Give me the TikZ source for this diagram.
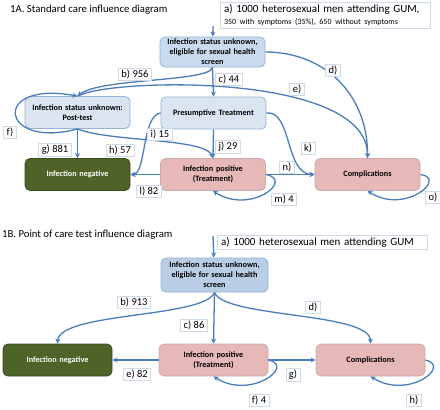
\documentclass[tikz,border=0pt]{standalone}
\usepackage{fontspec}
\setmainfont{Carlito}
\usepackage{xcolor}
\usepackage{tikz}
\usetikzlibrary{shapes,arrows.meta}
\definecolor{edgeblue}{RGB}{74, 126, 187}
\definecolor{boxline}{RGB}{149, 179, 215}
\definecolor{paleblue}{RGB}{219, 229, 242}
\definecolor{screenblue}{RGB}{201, 218, 239}
\definecolor{deepscreen}{RGB}{185, 205, 229}
\definecolor{rose}{RGB}{230, 185, 184}
\definecolor{roseline}{RGB}{200, 170, 175}
\definecolor{olive}{RGB}{79, 98, 40}
\definecolor{oliveline}{RGB}{60, 75, 30}
\definecolor{labelline}{RGB}{205, 218, 234}

\begin{document}
\begin{tikzpicture}[x=1pt, y=-1pt,
    stbox/.style={rectangle, rounded corners=5pt, draw=boxline, line width=0.8pt, minimum width=105pt, minimum height=32pt, text width=104pt, align=center, inner sep=0.5pt, font=\fontsize{8.2}{10}\selectfont\bfseries},
    bluebox/.style={stbox, fill=paleblue},
    pinkbox/.style={stbox, fill=rose, draw=roseline},
    greenbox/.style={stbox, fill=olive, draw=oliveline, text=white},
    lbl/.style={rectangle, draw=labelline, fill=white, line width=0.6pt, inner xsep=3pt, inner ysep=1.5pt, font=\fontsize{10.5}{12}\selectfont},
    infobox/.style={rectangle, draw=labelline, fill=white, line width=0.6pt, align=left, inner xsep=4pt, inner ysep=2pt, font=\fontsize{11}{12.5}\selectfont},
    heading/.style={anchor=west, inner sep=0pt, font=\fontsize{10.7}{12}\selectfont},
    arrow/.style={-{Stealth[length=5pt, width=5pt]}, edgeblue, line width=1.3pt}
]
\useasboundingbox (0,0) rectangle (440,410);

% 1A standard care
\node[heading] (titleA) at (10,10) {1A. Standard care influence diagram};
\node[infobox, text width=202pt] (gumA) at (325,15) {a) 1000 heterosexual men attending GUM,\\{\fontsize{8}{9.5}\selectfont 350 with symptoms (35\%), 650 without symptoms}};
\coordinate (inA) at (213,26);

\node[bluebox, fill=screenblue, minimum height=30pt] (screenA) at (212.5,52) {Infection status unknown,\\eligible for sexual health\\screen};
\node[bluebox] (posttest) at (77.5,112.5) {Infection status unknown:\\Post-test};
\node[bluebox] (presume) at (213.5,113) {Presumptive Treatment};
\node[greenbox] (negA) at (77.5,174.5) {Infection negative};
\node[pinkbox] (posA) at (213,174.5) {Infection positive\\(Treatment)};
\node[pinkbox] (compA) at (367.5,174.5) {Complications};

\draw[arrow] (inA) -- (screenA);
\draw[arrow] (screenA.south) .. controls (210,82) and (100,78) .. (posttest.north);
\draw[arrow] (posttest.north) .. controls (110,78) and (368,72) .. (compA.north);
\draw[arrow] (posttest.south) .. controls (0,150) and (-10,80) .. (posttest.north);
\draw[arrow] (screenA.south) -- (presume.north);
\draw[arrow] (screenA.east) .. controls (325,52) and (368,95) .. (compA.north);
\draw[arrow] (posttest.south) -- (negA.north);
\draw[arrow] (posttest.south) .. controls (110,142) and (205,138) .. (posA.north);
\draw[arrow] (presume.west) .. controls (142,115) and (146,174) .. (negA.east);
\draw[arrow] (presume.south) -- (posA.north);
\draw[arrow] (presume.east) .. controls (292,110) and (285,174) .. (compA.west);
\draw[arrow] (posA.west) -- (negA.east);
\draw[arrow] (posA.east) -- (compA.west);
\draw[arrow] (posA.east) .. controls (295,180) and (250,215) .. (posA.south);
\draw[arrow] (compA.east) .. controls (448,178) and (405,215) .. (compA.south);

\node[lbl] (lb) at (135,74) {b) 956};
\node[lbl] (lc) at (229,79) {c) 44};
\node[lbl] (ld) at (333,70) {d)};
\node[lbl] (le) at (297,89) {e)};
\node[lbl] (lf) at (10,132) {f)};
\node[lbl] (lg) at (55,150) {g) 881};
\node[lbl] (lh) at (120,150) {h) 57};
\node[lbl] (li) at (160,134) {i) 15};
\node[lbl] (lj) at (228,147) {j) 29};
\node[lbl] (lk) at (308,148) {k)};
\node[lbl] (ll) at (149,191) {l) 82};
\node[lbl] (ln) at (287,167) {n)};
\node[lbl] (lm) at (284,199) {m) 4};
\node[lbl] (lo) at (433,197) {o)};

% 1B point of care test
\node[heading] (titleB) at (2,235) {1B. Point of care test influence diagram};
\node[infobox, text width=202pt] (gumB) at (322,242) {a) 1000 heterosexual men attending GUM};
\coordinate (inB) at (213,236);

\node[bluebox, fill=deepscreen, minimum width=107pt, minimum height=34pt] (screenB) at (214.5,275) {Infection status unknown,\\eligible for sexual health\\screen};
\node[greenbox, minimum width=109pt] (negB) at (57.5,360) {Infection negative};
\node[pinkbox, minimum width=109pt] (posB) at (213.5,360) {Infection positive\\(Treatment)};
\node[pinkbox, minimum width=109pt] (compB) at (370.5,360) {Complications};

\draw[arrow] (inB) -- (screenB);
\draw[arrow] (screenB.south) .. controls (205,318) and (60,312) .. (negB.north);
\draw[arrow] (screenB.south) -- (posB.north);
\draw[arrow] (screenB.south) .. controls (224,318) and (370,312) .. (compB.north);
\draw[arrow] (posB.west) -- (negB.east);
\draw[arrow] (posB.east) -- (compB.west);
\draw[arrow] (posB.east) .. controls (296,366) and (250,400) .. (posB.south);
\draw[arrow] (compB.east) .. controls (452,366) and (408,400) .. (compB.south);

\node[lbl] (lb2) at (134,302) {b) 913};
\node[lbl] (lc2) at (194,325) {c) 86};
\node[lbl] (ld2) at (313,307) {d)};
\node[lbl] (le2) at (137,374) {e) 82};
\node[lbl] (lg2) at (293,375) {g)};
\node[lbl] (lf2) at (259,400) {f) 4};
\node[lbl] (lh2) at (414,400) {h)};
\end{tikzpicture}
\end{document}
